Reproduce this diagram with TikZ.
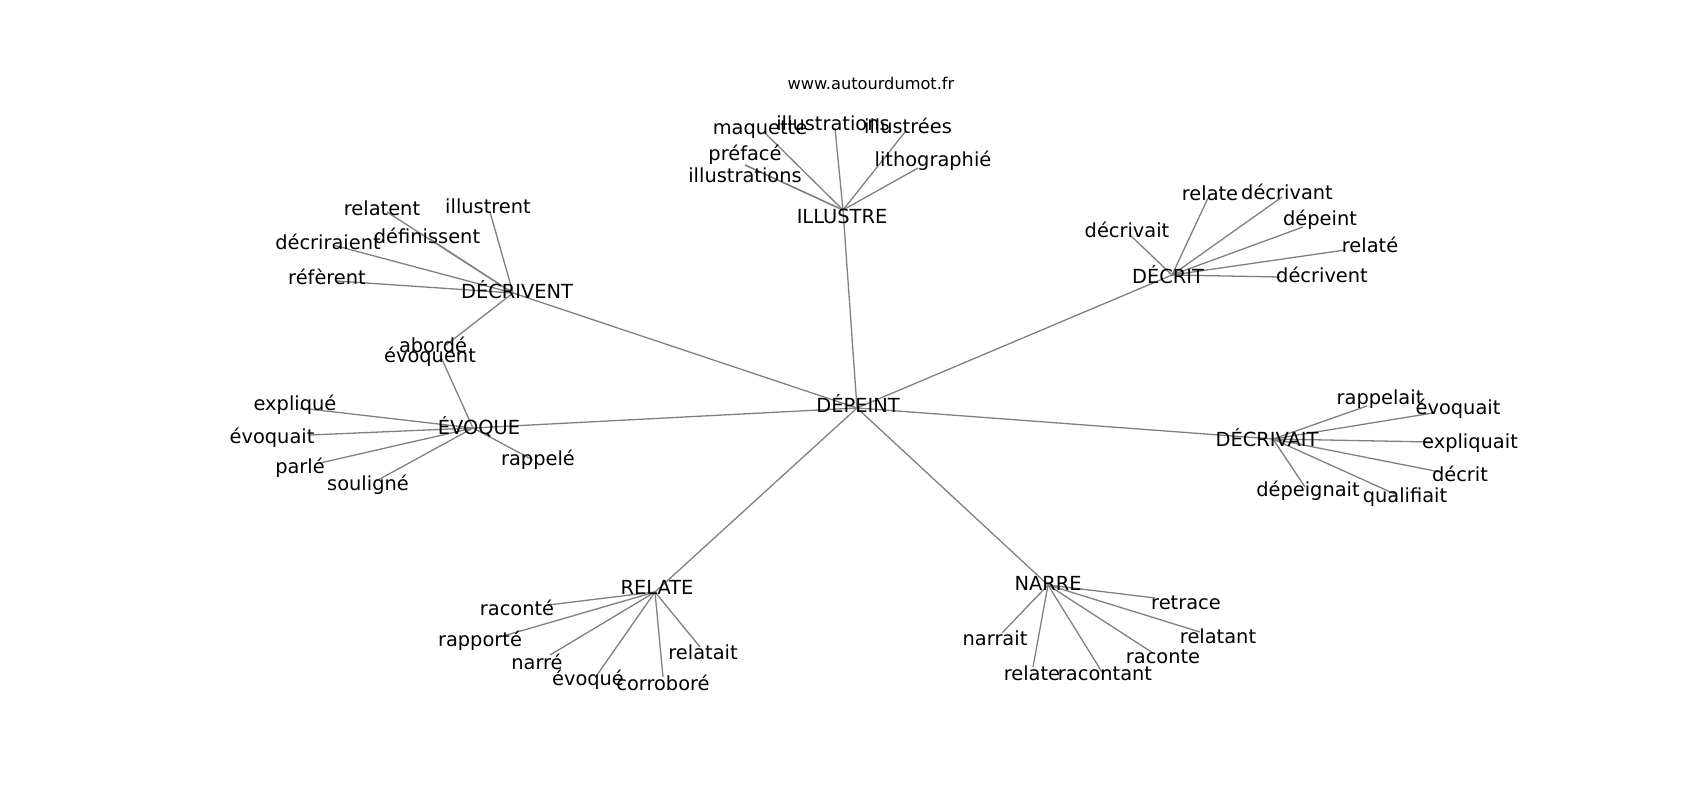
\documentclass[tikz,border=0pt]{standalone}
\usepackage{fontspec}
\setmainfont{DejaVu Sans}

\begin{document}

\begin{tikzpicture}[x = 1pt, y = -1pt,
	word/.style = {inner sep = 0pt, font = \fontsize{19.4}{23}\selectfont},
	link/.style = {draw = gray, line width = 1.3pt}]

	\useasboundingbox (0, 0) rectangle (1700, 800);

	% Hubs

	\coordinate (depeint) at (857, 408);
	\coordinate (illustre) at (843, 210);
	\coordinate (decrivent) at (513, 293);
	\coordinate (evoque) at (473, 428);
	\coordinate (decrit) at (1172, 275);
	\coordinate (decrivait) at (1273, 439);
	\coordinate (relate) at (655, 592);
	\coordinate (narre) at (1048, 585);

	% Ends of the leaves

	\coordinate (ill1) at (765, 133);
	\coordinate (ill2) at (835, 128);
	\coordinate (ill3) at (905, 132);
	\coordinate (ill4) at (918, 168);
	\coordinate (ill5) at (745, 165);
	\coordinate (ill6) at (745, 165);

	\coordinate (dvt1) at (387, 212);
	\coordinate (dvt2) at (490, 212);
	\coordinate (dvt3) at (430, 239);
	\coordinate (dvt4) at (333, 245);
	\coordinate (dvt5) at (337, 281);
	\coordinate (dvt6) at (446, 345);

	\coordinate (evo1) at (440, 355);
	\coordinate (evo2) at (300, 408);
	\coordinate (evo3) at (310, 435);
	\coordinate (evo4) at (320, 463);
	\coordinate (evo5) at (378, 480);
	\coordinate (evo6) at (533, 460);

	\coordinate (dct1) at (1208, 198);
	\coordinate (dct2) at (1282, 197);
	\coordinate (dct3) at (1130, 235);
	\coordinate (dct4) at (1303, 227);
	\coordinate (dct5) at (1345, 250);
	\coordinate (dct6) at (1280, 277);

	\coordinate (dvs1) at (1367, 406);
	\coordinate (dvs2) at (1433, 413);
	\coordinate (dvs3) at (1433, 442);
	\coordinate (dvs4) at (1440, 472);
	\coordinate (dvs5) at (1305, 487);
	\coordinate (dvs6) at (1397, 495);

	\coordinate (rel1) at (548, 605);
	\coordinate (rel2) at (500, 637);
	\coordinate (rel3) at (550, 655);
	\coordinate (rel4) at (597, 675);
	\coordinate (rel5) at (663, 677);
	\coordinate (rel6) at (700, 647);

	\coordinate (nar1) at (1155, 598);
	\coordinate (nar2) at (1200, 632);
	\coordinate (nar3) at (1153, 653);
	\coordinate (nar4) at (1102, 672);
	\coordinate (nar5) at (1033, 667);
	\coordinate (nar6) at (1002, 633);

	% Links

	\begin{scope}[link]

		\draw (depeint) -- (illustre);
		\draw (depeint) -- (decrivent);
		\draw (depeint) -- (evoque);
		\draw (depeint) -- (decrit);
		\draw (depeint) -- (decrivait);
		\draw (depeint) -- (relate);
		\draw (depeint) -- (narre);

		\foreach \i in {1, ..., 6} {
			\draw (illustre) -- (ill\i);
			\draw (decrivent) -- (dvt\i);
			\draw (evoque) -- (evo\i);
			\draw (decrit) -- (dct\i);
			\draw (decrivait) -- (dvs\i);
			\draw (relate) -- (rel\i);
			\draw (narre) -- (nar\i);
		}

	\end{scope}

	% Title

	\node (site) [inner sep = 0pt, font = \fontsize{16.2}{19}\selectfont] at (871, 83) {www.autourdumot.fr};

	% Words

	\begin{scope}[every node/.style = word]

		\node (depeint label) at (858, 404) {DÉPEINT};
		\node (illustre label) at (842, 216) {ILLUSTRE};
		\node (decrivent label) at (517, 290) {DÉCRIVENT};
		\node (evoque label) at (479, 427) {ÉVOQUE};
		\node (decrit label) at (1168, 275) {DÉCRIT};
		\node (decrivait label) at (1267, 438) {DÉCRIVAIT};
		\node (relate label) at (657, 587) {RELATE};
		\node (narre label) at (1048, 583) {NARRE};

		\node (ill1 label) at (760, 130) {maquette};
		\node (ill2 label) at (833, 123) {illustrations};
		\node (ill3 label) at (908, 126) {illustrées};
		\node (ill4 label) at (933, 161) {lithographié};
		\node (ill5 label) at (745, 155) {préfacé};
		\node (ill6 label) at (745, 175) {illustrations};

		\node (dvt1 label) at (382, 208) {relatent};
		\node (dvt2 label) at (488, 206) {illustrent};
		\node (dvt3 label) at (427, 236) {définissent};
		\node (dvt4 label) at (328, 242) {décriraient};
		\node (dvt5 label) at (327, 277) {réfèrent};
		\node (dvt6 label) at (433, 345) {abordé};

		\node (evo1 label) at (430, 357) {évoquent};
		\node (evo2 label) at (295, 405) {expliqué};
		\node (evo3 label) at (272, 438) {évoquait};
		\node (evo4 label) at (300, 468) {parlé};
		\node (evo5 label) at (368, 485) {souligné};
		\node (evo6 label) at (538, 460) {rappelé};

		\node (dct1 label) at (1210, 193) {relate};
		\node (dct2 label) at (1287, 192) {décrivant};
		\node (dct3 label) at (1127, 230) {décrivait};
		\node (dct4 label) at (1320, 220) {dépeint};
		\node (dct5 label) at (1370, 245) {relaté};
		\node (dct6 label) at (1322, 275) {décrivent};

		\node (dvs1 label) at (1380, 399) {rappelait};
		\node (dvs2 label) at (1458, 409) {évoquait};
		\node (dvs3 label) at (1470, 443) {expliquait};
		\node (dvs4 label) at (1460, 474) {décrit};
		\node (dvs5 label) at (1308, 491) {dépeignait};
		\node (dvs6 label) at (1405, 497) {qualifiait};

		\node (rel1 label) at (517, 608) {raconté};
		\node (rel2 label) at (480, 641) {rapporté};
		\node (rel3 label) at (537, 662) {narré};
		\node (rel4 label) at (588, 680) {évoqué};
		\node (rel5 label) at (663, 683) {corroboré};
		\node (rel6 label) at (703, 652) {relatait};

		\node (nar1 label) at (1186, 603) {retrace};
		\node (nar2 label) at (1218, 636) {relatant};
		\node (nar3 label) at (1163, 657) {raconte};
		\node (nar4 label) at (1105, 674) {racontant};
		\node (nar5 label) at (1032, 673) {relate};
		\node (nar6 label) at (995, 638) {narrait};

	\end{scope}

\end{tikzpicture}

\end{document}
